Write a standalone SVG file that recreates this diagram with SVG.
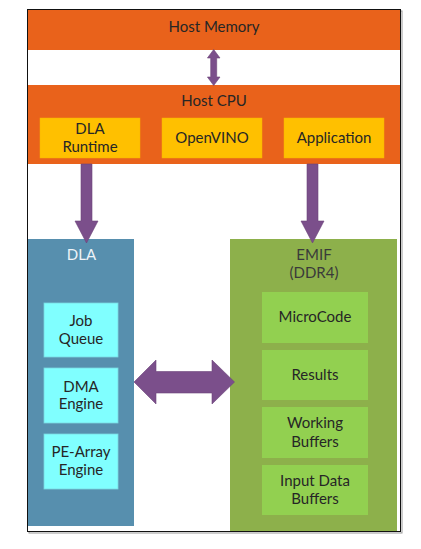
<svg xmlns="http://www.w3.org/2000/svg" width="421" height="549" viewBox="0 0 421 549">
<style>
text{font-family:Lato,"Liberation Sans",sans-serif;font-size:15px;text-anchor:middle;fill:#262626}
.org{fill:#E9621B}
.yel{fill:#FFC000;stroke:#F5B400;stroke-width:0.5}
.cyan{fill:#80FFFF;stroke:#7AD8E0;stroke-width:0.8}
.lg{fill:#92D050}
.arr{fill:#7B4F8B;stroke:#6B4379;stroke-width:0.6}
.wt{fill:#EEF4F8}
.dk{fill:#3A3A3A}
</style>
<rect x="29" y="11" width="373" height="522" fill="none" stroke="#999" stroke-width="1"/>
<rect x="27.5" y="9.5" width="373" height="522" fill="#fff" stroke="#111" stroke-width="1"/>
<g id="host-memory">
<rect class="org" x="28" y="10" width="372" height="40"/>
<text x="214" y="32">Host Memory</text>
</g>
<g id="host-cpu">
<rect class="org" x="28" y="85" width="372" height="79"/>
<text x="214" y="106">Host CPU</text>
<g id="dla-runtime">
<rect class="yel" x="40" y="118" width="100" height="40"/>
<text x="90" y="133.5">DLA</text>
<text x="90" y="151.5">Runtime</text>
</g>
<g id="openvino">
<rect class="yel" x="162" y="118" width="100" height="40"/>
<text x="212" y="142.5">OpenVINO</text>
</g>
<g id="application">
<rect class="yel" x="284" y="118" width="100" height="40"/>
<text x="334" y="142.5">Application</text>
</g>
</g>
<g id="dla">
<rect x="28" y="239" width="106" height="287" fill="#578FAE"/>
<text class="wt" x="81.5" y="260">DLA</text>
<g id="job-queue">
<rect class="cyan" x="44" y="303" width="74" height="54"/>
<text x="81" y="326">Job</text>
<text x="81" y="344">Queue</text>
</g>
<g id="dma-engine">
<rect class="cyan" x="44" y="368" width="74" height="55"/>
<text x="81" y="391.5">DMA</text>
<text x="81" y="409">Engine</text>
</g>
<g id="pe-array-engine">
<rect class="cyan" x="44" y="434" width="74" height="55"/>
<text x="81" y="457">PE-Array</text>
<text x="81" y="475">Engine</text>
</g>
</g>
<g id="emif">
<rect x="230" y="239" width="167" height="292" fill="#8DB04B"/>
<text class="dk" x="314" y="260">EMIF</text>
<text class="dk" x="314" y="278">(DDR4)</text>
<g id="microcode">
<rect class="lg" x="262" y="292" width="106" height="51"/>
<text x="315" y="322">MicroCode</text>
</g>
<g id="results">
<rect class="lg" x="262" y="350" width="106" height="50"/>
<text x="315" y="380">Results</text>
</g>
<g id="working-buffers">
<rect class="lg" x="262" y="407" width="106" height="51"/>
<text x="315" y="428">Working</text>
<text x="315" y="446.5">Buffers</text>
</g>
<g id="input-data-buffers">
<rect class="lg" x="262" y="465" width="106" height="50"/>
<text x="315" y="486">Input Data</text>
<text x="315" y="503.5">Buffers</text>
</g>
</g>
<g id="connectors">
<polygon class="arr" points="213.7,49.5 220,58 216.7,58 216.7,77 220,77 213.7,85.5 207.4,77 210.7,77 210.7,58 207.4,58"/>
<polygon class="arr" points="81,164 92,164 92,221 98,221 86.5,243 75,221 81,221"/>
<polygon class="arr" points="307,164 318,164 318,221 324,221 312.5,243 301,221 307,221"/>
<polygon class="arr" points="134,382 156,360 156,371.5 212,371.5 212,360 234.5,382 212,404 212,393 156,393 156,404"/>
</g>
</svg>
